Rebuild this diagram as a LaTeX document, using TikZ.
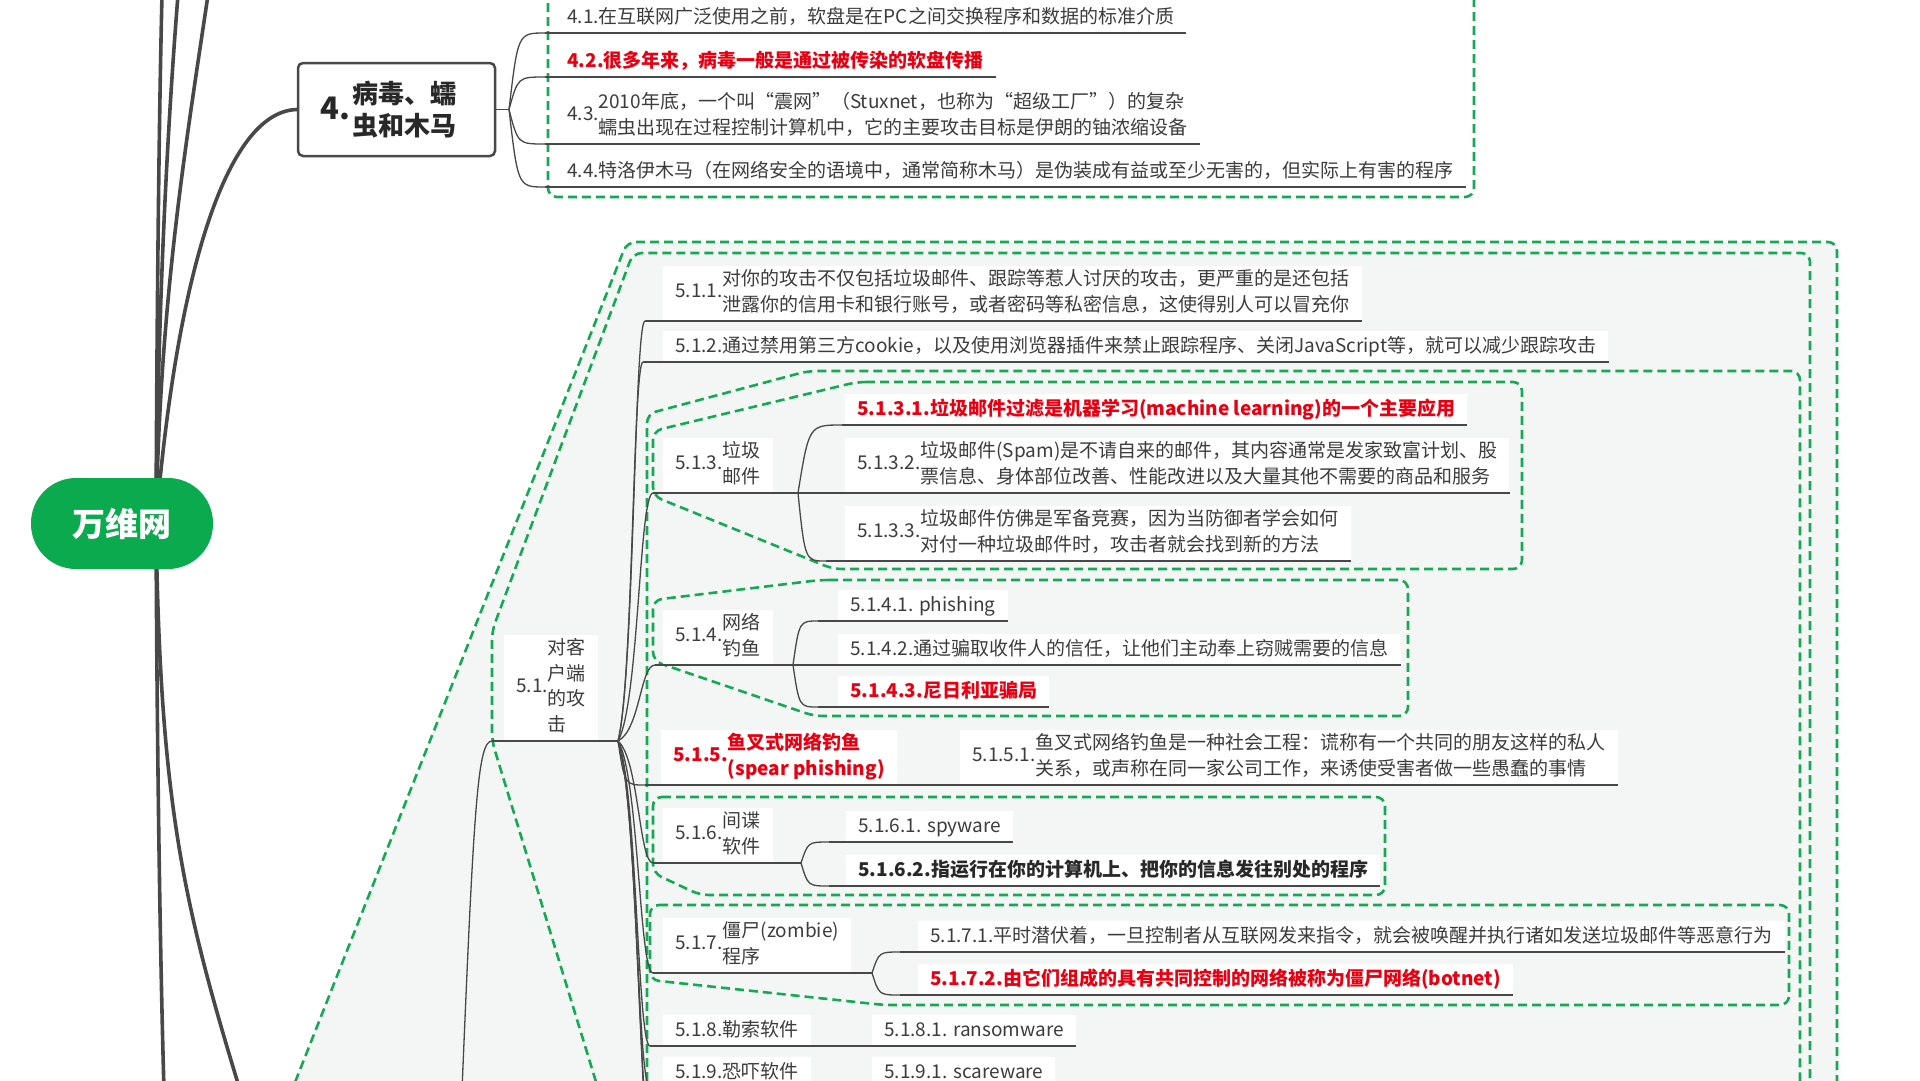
\documentclass[tikz,border=0pt]{standalone}
\usepackage{fontspec}
\setmainfont{Noto Sans CJK SC}
\usetikzlibrary{calc}
\definecolor{bgreen}{RGB}{22,168,84}
\definecolor{rootg}{RGB}{12,170,78}
\definecolor{lnc}{RGB}{72,72,72}
\definecolor{txt}{RGB}{60,60,60}
\definecolor{txtd}{RGB}{40,40,40}
\definecolor{redt}{RGB}{232,0,18}
\definecolor{tint}{RGB}{243,246,245}
\newcommand\tl[2]{#1\begin{tabular}{@{}l@{}}#2\end{tabular}}
\newcommand\conn[2]{\draw[thinln] (#1) let \p1=(#1), \p2=(#2) in .. controls ({\x1+0.25*(\x2-\x1)},\y2) .. (#2);}
\newcommand\connb[2]{\draw[thinln] (#1) let \p1=(#1), \p2=(#2) in .. controls ({\x1+0.6*(\x2-\x1)},{\y1+0.15*(\y2-\y1)}) and ({\x1+0.6*(\x2-\x1)},\y2) .. (#2);}
\begin{document}
\begin{tikzpicture}[x=1pt,y=-1pt,
 bd/.style={draw=bgreen,line width=2.6pt,dash pattern=on 9pt off 5pt,rounded corners=9pt},
 rootln/.style={draw=lnc,line width=3.6pt},
 thinln/.style={draw=lnc,line width=1.3pt},
 topic/.style={anchor=south west,fill=white,inner xsep=12pt,inner ysep=5pt,text height=17pt,text depth=4pt,text=txt,font=\fontsize{19}{25.5}\selectfont},
 topic2/.style={anchor=south west,fill=white,inner xsep=12pt,inner ysep=2pt,text=txt,font=\fontsize{19}{25.5}\selectfont},
 redb/.style={text=redt,font=\fontsize{19}{25.5}\selectfont\bfseries},
 darkb/.style={text=txtd,font=\fontsize{19}{25.5}\selectfont\bfseries},
]
\useasboundingbox (0,0) rectangle (1920,1080);
\fill[white] (0,0) rectangle (1920,1080);

% boundaries
\path[bd,fill=tint] (290,1095) -- (627,242) -- (1837,242) -- (1837,1095);
\path[bd] (600,1095) -- (492,741) -- (492,631) -- (633,253) -- (1810,253) -- (1810,1095);
\path[bd] (647,1095) -- (647,414) -- (808,371) -- (1800,371) -- (1800,1095);
\path[bd] (857,382) -- (1522,382) -- (1522,569) -- (833,569) -- (653,496) -- (653,431) -- cycle;
\path[bd] (820,580) -- (1408,580) -- (1408,716) -- (814,716) -- (653,661) -- (653,600) -- cycle;
\path[bd] (653,797) -- (1385,797) -- (1385,895) -- (700,895) -- (653,873) -- cycle;
\path[bd] (650,905) -- (1789,905) -- (1789,1005) -- (884,1005) -- (650,980) -- cycle;
\draw[bd,fill=white] (548,-20) rectangle (1474,197);

% coordinates
\coordinate (rs) at (156,523);
\coordinate (u1) at (162,-5);
\coordinate (u2) at (178,-5);
\coordinate (u3) at (208,-5);
\coordinate (d1) at (164,1090);
\coordinate (d2) at (240,1090);
\coordinate (n4w) at (298,109.5);
\coordinate (p5) at (462,1090);

% root branches
\draw[rootln] (rs) .. controls (157,300) and (159,120) .. (u1);
\draw[rootln] (rs) .. controls (158,300) and (168,120) .. (u2);
\draw[rootln] (rs) .. controls (160,300) and (185,150) .. (u3);
\draw[rootln] (rs) .. controls (178,260) and (230,109.5) .. (n4w);
\draw[rootln] (rs) .. controls (157,750) and (160,950) .. (d1);
\draw[rootln] (rs) .. controls (160,800) and (182,900) .. (d2);

% root and main topic
\node[fill=rootg,text=white,minimum width=182pt,minimum height=91pt,rounded corners=45pt,inner sep=0pt,
  font=\fontsize{33}{33}\selectfont\bfseries] (root) at (122,523.5) {万维网};
\node[draw=lnc,line width=2.5pt,fill=white,rounded corners=5pt,minimum width=197pt,minimum height=93pt,inner sep=0pt] (n4) at (396.5,109.5) {};
\node[inner sep=0pt,text=txtd,font=\fontsize{26}{32}\selectfont\bfseries] (n4t) at ([xshift=-8pt,yshift=-4pt]n4.center)
  {{\fontsize{31}{31}\selectfont 4.}\hspace{2pt}\begin{tabular}{@{}l@{}}病毒、蠕\\虫和木马\end{tabular}};

% 4.x topics
\node[topic] (n41) at (555,33) {4.1.在互联网广泛使用之前，软盘是在PC之间交换程序和数据的标准介质};
\node[topic,redb] (n42) at (555,77) {4.2.很多年来，病毒一般是通过被传染的软盘传播};
\node[topic2] (n43) at (555,144) {\tl{4.3.}{2010年底，一个叫“震网”（Stuxnet，也称为“超级工厂”）的复杂\\蠕虫出现在过程控制计算机中，它的主要攻击目标是伊朗的铀浓缩设备}};
\node[topic] (n44) at (555,187) {4.4.特洛伊木马（在网络安全的语境中，通常简称木马）是伪装成有益或至少无害的，但实际上有害的程序};

% 5.1 subtree
\node[topic2] (n51) at (504,741) {\tl{5.1.}{对客\\户端\\的攻\\击}};
\node[topic2] (n511) at (663,321) {\tl{5.1.1.}{对你的攻击不仅包括垃圾邮件、跟踪等惹人讨厌的攻击，更严重的是还包括\\泄露你的信用卡和银行账号，或者密码等私密信息，这使得别人可以冒充你}};
\node[topic] (n512) at (663,362) {5.1.2.通过禁用第三方cookie，以及使用浏览器插件来禁止跟踪程序、关闭JavaScript等，就可以减少跟踪攻击};
\node[topic2] (n513) at (663,493) {\tl{5.1.3.}{垃圾\\邮件}};
\node[topic,redb] (n5131) at (845,425) {5.1.3.1.垃圾邮件过滤是机器学习(machine learning)的一个主要应用};
\node[topic2] (n5132) at (845,493) {\tl{5.1.3.2.}{垃圾邮件(Spam)是不请自来的邮件，其内容通常是发家致富计划、股\\票信息、身体部位改善、性能改进以及大量其他不需要的商品和服务}};
\node[topic2] (n5133) at (845,561) {\tl{5.1.3.3.}{垃圾邮件仿佛是军备竞赛，因为当防御者学会如何\\对付一种垃圾邮件时，攻击者就会找到新的方法}};
\node[topic2] (n514) at (663,665) {\tl{5.1.4.}{网络\\钓鱼}};
\node[topic] (n5141) at (838,621) {5.1.4.1. phishing};
\node[topic] (n5142) at (838,665) {5.1.4.2.通过骗取收件人的信任，让他们主动奉上窃贼需要的信息};
\node[topic,redb] (n5143) at (838,707) {5.1.4.3.尼日利亚骗局};
\node[topic2,redb] (n515) at (661,785) {\tl{5.1.5.}{鱼叉式网络钓鱼\\(spear phishing)}};
\node[topic2] (n5151) at (960,785) {\tl{5.1.5.1.}{鱼叉式网络钓鱼是一种社会工程：谎称有一个共同的朋友这样的私人\\关系，或声称在同一家公司工作，来诱使受害者做一些愚蠢的事情}};
\node[topic2] (n516) at (663,863) {\tl{5.1.6.}{间谍\\软件}};
\node[topic] (n5161) at (846,842) {5.1.6.1. spyware};
\node[topic,darkb] (n5162) at (846,886) {5.1.6.2.指运行在你的计算机上、把你的信息发往别处的程序};
\node[topic2] (n517) at (663,973) {\tl{5.1.7.}{僵尸(zombie)\\程序}};
\node[topic] (n5171) at (918,952) {5.1.7.1.平时潜伏着，一旦控制者从互联网发来指令，就会被唤醒并执行诸如发送垃圾邮件等恶意行为};
\node[topic,redb] (n5172) at (918,995) {5.1.7.2.由它们组成的具有共同控制的网络被称为僵尸网络(botnet)};
\node[topic] (n518) at (663,1046) {5.1.8.勒索软件};
\node[topic] (n5181) at (872,1046) {5.1.8.1. ransomware};
\node[topic] (n519) at (663,1088) {5.1.9.恐吓软件};
\node[topic] (n5191) at (872,1088) {5.1.9.1. scareware};

% connector coordinates
\coordinate (h4) at (509,109.5);
\coordinate (l41) at (545,33);
\coordinate (l42) at (545,77);
\coordinate (l43) at (545,144);
\coordinate (l44) at (545,187);
\coordinate (h51) at (618,741);
\coordinate (l51) at (492,741);
\coordinate (l511) at (645,321);
\coordinate (l512) at (643,362);
\coordinate (l513) at (653,493);
\coordinate (l514) at (655,665);
\coordinate (l515) at (645,785);
\coordinate (l516) at (653,863);
\coordinate (l517) at (653,973);
\coordinate (l518) at (650,1046);
\coordinate (l519) at (650,1088);
\coordinate (l51a) at (652,1140);
\coordinate (l51b) at (655,1200);
\coordinate (h513) at (798,493);
\coordinate (l5131) at (842,425);
\coordinate (l5133) at (826,561);
\coordinate (h514) at (793,665);
\coordinate (l5141) at (818,621);
\coordinate (l5143) at (818,707);
\coordinate (h516) at (801,863);
\coordinate (l5161) at (829,842);
\coordinate (l5162) at (829,886);
\coordinate (h517) at (872,973);
\coordinate (l5171) at (900,952);
\coordinate (l5172) at (900,995);

% underlines
\draw[thinln] (n4.east) -- (h4);
\draw[thinln] (l41) -- (n41.south east);
\draw[thinln] (l42) -- (n42.south east);
\draw[thinln] (l43) -- (n43.south east);
\draw[thinln] (l44) -- (n44.south east);
\draw[thinln] (l51) -- (h51);
\draw[thinln] (l511) -- (n511.south east);
\draw[thinln] (l512) -- (n512.south east);
\draw[thinln] (l513) -- (h513) -- (n5132.south east);
\draw[thinln] (l5131) -- (n5131.south east);
\draw[thinln] (l5133) -- (n5133.south east);
\draw[thinln] (l514) -- (h514) -- (n5142.south east);
\draw[thinln] (l5141) -- (n5141.south east);
\draw[thinln] (l5143) -- (n5143.south east);
\draw[thinln] (l515) -- (n5151.south east);
\draw[thinln] (l516) -- (h516);
\draw[thinln] (l5161) -- (n5161.south east);
\draw[thinln] (l5162) -- (n5162.south east);
\draw[thinln] (l517) -- (h517);
\draw[thinln] (l5171) -- (n5171.south east);
\draw[thinln] (l5172) -- (n5172.south east);
\draw[thinln] (l518) -- (n5181.south east);
\draw[thinln] (l519) -- (n5191.south east);

% connectors
\conn{h4}{l41}\conn{h4}{l42}\conn{h4}{l43}\conn{h4}{l44}
\connb{h51}{l511}\connb{h51}{l512}\connb{h51}{l513}\connb{h51}{l514}\conn{h51}{l515}
\connb{h51}{l516}\connb{h51}{l517}\connb{h51}{l518}\connb{h51}{l519}\connb{h51}{l51a}\connb{h51}{l51b}
\conn{h513}{l5131}\conn{h513}{l5133}
\conn{h514}{l5141}\conn{h514}{l5143}
\conn{h516}{l5161}\conn{h516}{l5162}
\conn{h517}{l5171}\conn{h517}{l5172}
\draw[thinln] (p5) .. controls (474,800) and (478,741) .. (l51);
\end{tikzpicture}
\end{document}
